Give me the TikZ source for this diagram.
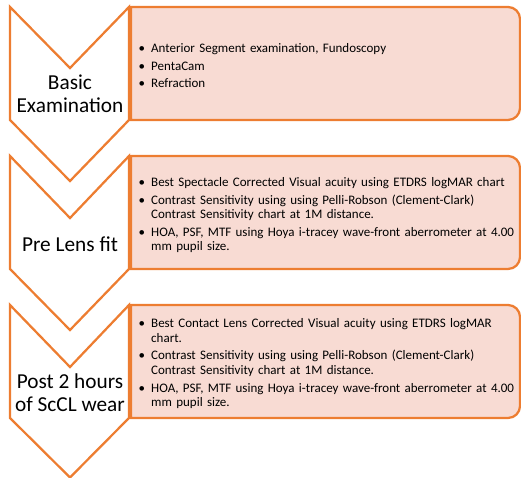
\documentclass[tikz,border=0pt]{standalone}
\usepackage{fontspec}
\setmainfont{Carlito}
\usepackage{enumitem}
\definecolor{orng}{HTML}{ED7D31}
\definecolor{pinkfill}{HTML}{F8DBD3}
\tikzset{
  chev/.style={draw=orng, line width=2.25pt, fill=white, line join=miter},
  infobox/.style={draw=orng, line width=2.25pt, fill=pinkfill},
  chevlabel/.style={font=\fontsize{21.3}{23}\selectfont, align=center, inner sep=0pt},
  boxtext/.style={anchor=west, inner sep=0pt, text width=400pt, align=left,
    font=\fontsize{13}{14.6}\selectfont}
}
\newcommand{\itemlist}[1]{\begin{itemize}[label=\textbullet, leftmargin=15pt, labelsep=6pt, topsep=0pt, partopsep=0pt, parsep=0pt, itemsep=3pt]#1\end{itemize}}
\begin{document}
\begin{tikzpicture}[x=1pt,y=1pt]
\useasboundingbox (0,0) rectangle (521,478);
% boxes
\draw[infobox] (131,358) -- (131,471) -- (508,471) arc[start angle=90, end angle=0, radius=12] -- (520,370) arc[start angle=0, end angle=-90, radius=12] -- cycle;
\draw[infobox] (131,209) -- (131,322) -- (508,322) arc[start angle=90, end angle=0, radius=12] -- (520,221) arc[start angle=0, end angle=-90, radius=12] -- cycle;
\draw[infobox] (131,60) -- (131,173) -- (508,173) arc[start angle=90, end angle=0, radius=12] -- (520,72) arc[start angle=0, end angle=-90, radius=12] -- cycle;
% chevrons
\draw[chev] (10,471) -- (70,410) -- (129,471) -- (129,358) -- (70,297) -- (10,358) -- cycle;
\draw[chev] (10,322) -- (70,260) -- (129,322) -- (129,209) -- (70,148) -- (10,209) -- cycle;
\draw[chev] (10,173) -- (70,111) -- (129,173) -- (129,60) -- (70,0.5) -- (10,60) -- cycle;
% labels
\node[chevlabel] (l1) at (70,384) {Basic\\Examination};
\node[chevlabel] (l2) at (70,234) {Pre Lens fit};
\node[chevlabel] (l3) at (70,85) {Post 2 hours\\of ScCL wear};
% box texts
\node[boxtext] (t1) at (136,415) {\itemlist{
  \item Anterior Segment examination, Fundoscopy
  \item PentaCam
  \item Refraction}};
\node[boxtext] (t2) at (136,265.5) {\itemlist{
  \item Best Spectacle Corrected Visual acuity using ETDRS logMAR chart
  \item Contrast Sensitivity using using Pelli-Robson (Clement-Clark)\newline Contrast Sensitivity chart at 1M distance.
  \item HOA, PSF, MTF using Hoya i-tracey wave-front aberrometer at 4.00\newline mm pupil size.}};
\node[boxtext] (t3) at (136,117) {\itemlist{
  \item Best Contact Lens Corrected Visual acuity using ETDRS logMAR\newline chart.
  \item Contrast Sensitivity using using Pelli-Robson (Clement-Clark)\newline Contrast Sensitivity chart at 1M distance.
  \item HOA, PSF, MTF using Hoya i-tracey wave-front aberrometer at 4.00\newline mm pupil size.}};
\end{tikzpicture}
\end{document}
